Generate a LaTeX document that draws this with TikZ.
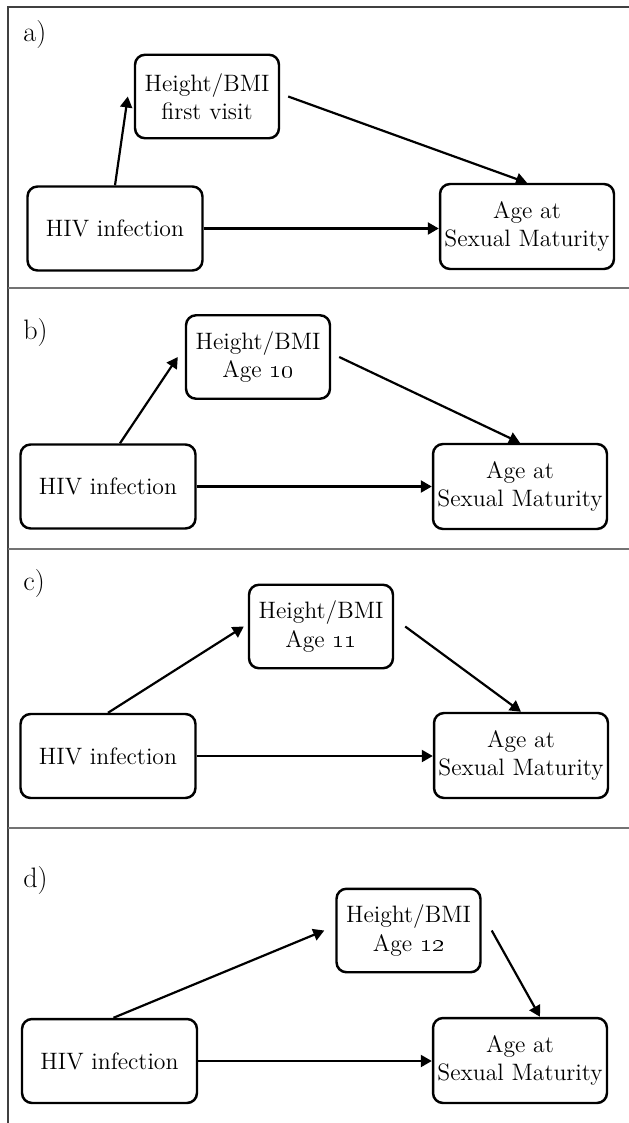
\documentclass[tikz,border=0pt]{standalone}
\usepackage{tikz}
\usetikzlibrary{arrows.meta}

\begin{document}
\begin{tikzpicture}[x=0.02cm,y=-0.02cm,
	box/.style={rectangle,draw,line width=1.4pt,rounded corners=0.2cm,align=center,
		font=\fontsize{13.5}{16}\selectfont,inner sep=2pt},
	hiv/.style={box,minimum width=3.5cm,minimum height=1.68cm},
	age/.style={box,minimum width=3.48cm,minimum height=1.7cm},
	ht/.style={box,minimum width=2.88cm,minimum height=1.67cm},
	tag/.style={anchor=west,inner sep=0pt,font=\fontsize{16}{18}\selectfont},
	arr/.style={line width=1.25pt,-{Triangle[length=0.22cm,width=0.24cm]}},
	frame/.style={line width=1pt,black!75},
	divider/.style={line width=1.2pt,black!55}]
\useasboundingbox (0,0) rectangle (629,1123);
\draw[frame] (8,1123) -- (8,7) -- (629,7);
\draw[divider] (8,288) -- (629,288);
\draw[divider] (8,549) -- (629,549);
\draw[divider] (8,828) -- (629,828);

\node[tag] (labA) at (23,34) {a)};
\node[ht] (htA) at (207,96.5) {Height/BMI\\first visit};
\node[hiv] (hivA) at (115,228.5) {HIV infection};
\node[age] (ageA) at (527,226.5) {Age at\\Sexual Maturity};
\draw[arr] (hivA.north) -- ([xshift=-0.12cm]htA.west);
\draw[arr] ([xshift=0.16cm]htA.east) -- (ageA.north);
\draw[arr] (hivA.east) -- (hivA.east -| ageA.west);

\node[tag] (labB) at (23,332) {b)};
\node[ht] (htB) at (258,357) {Height/BMI\\Age \oldstylenums{10}};
\node[hiv] (hivB) at (108,486.5) {HIV infection};
\node[age] (ageB) at (520,486.5) {Age at\\Sexual Maturity};
\draw[arr] ([xshift=0.24cm]hivB.north) -- ([xshift=-0.14cm]htB.west);
\draw[arr] ([xshift=0.16cm]htB.east) -- (ageB.north);
\draw[arr] (hivB.east) -- (hivB.east -| ageB.west);

\node[tag] (labC) at (23,583) {c)};
\node[ht] (htC) at (321,626.5) {Height/BMI\\Age \oldstylenums{11}};
\node[hiv] (hivC) at (108,756) {HIV infection};
\node[age] (ageC) at (521,755.5) {Age at\\Sexual Maturity};
\draw[arr] (hivC.north) -- ([xshift=-0.08cm]htC.west);
\draw[arr] ([xshift=0.22cm]htC.east) -- (ageC.north);
\draw[arr] (hivC.east) -- (hivC.east -| ageC.west);

\node[tag] (labD) at (23,880) {d)};
\node[ht] (htD) at (408.5,930.5) {Height/BMI\\Age \oldstylenums{12}};
\node[hiv] (hivD) at (109.5,1061) {HIV infection};
\node[age] (ageD) at (520,1060.5) {Age at\\Sexual Maturity};
\draw[arr] ([xshift=0.08cm]hivD.north) -- ([xshift=-0.22cm]htD.west);
\draw[arr] ([xshift=0.2cm]htD.east) -- ([xshift=0.4cm]ageD.north);
\draw[arr] (hivD.east) -- (hivD.east -| ageD.west);
\end{tikzpicture}
\end{document}
